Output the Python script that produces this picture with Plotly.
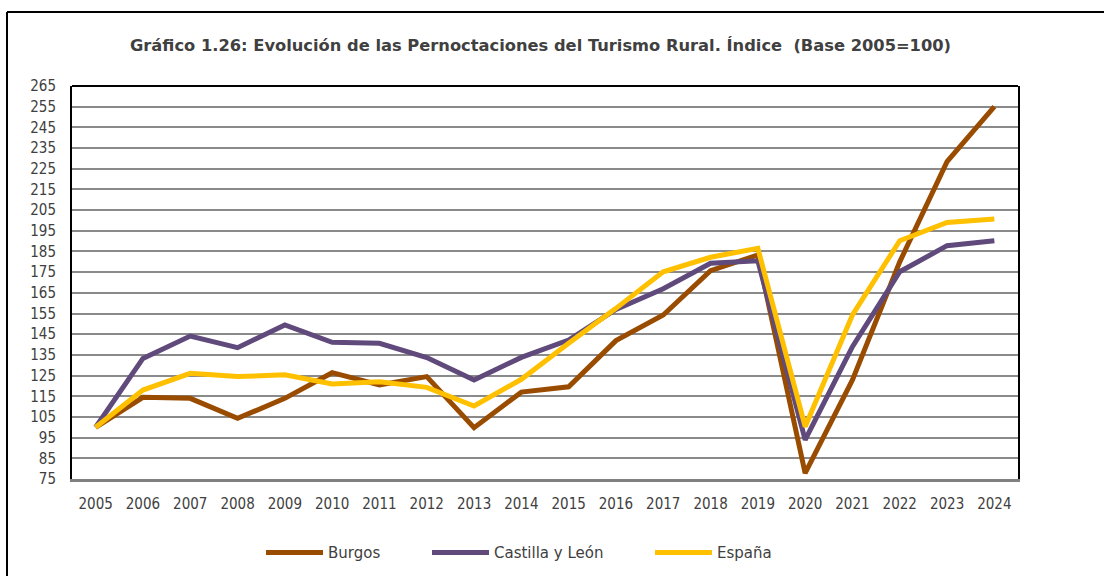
import plotly.graph_objects as go

years = [str(y) for y in range(2005, 2025)]
burgos = [100, 114.5, 114, 104.3, 114, 126.4, 120.5, 124.5, 99.8, 117, 119.6,
          141.9, 154.3, 175.7, 183.3, 77.8, 122.9, 180, 228.4, 255]
castilla = [100, 133.3, 144.1, 138.5, 149.5, 141.1, 140.6, 133.7, 122.9, 133.8, 142.2,
            157, 167, 179.3, 180.5, 93.9, 139, 175.2, 187.8, 190.2]
espana = [100, 118, 126.1, 124.5, 125.4, 120.9, 122, 119.3, 110.3, 123.2, 140.6,
          157.5, 175.2, 182.2, 186.5, 100.3, 154.3, 190.2, 199, 200.7]
y_ticks = list(range(75, 266, 10))

series = [("Burgos", burgos, "#994C00", "legend"),
          ("Castilla y León", castilla, "#604A7B", "legend2"),
          ("España", espana, "#FFC000", "legend3")]

fig = go.Figure()
for name, vals, col, lg in series:
    fig.add_trace(go.Scatter(x=years, y=vals, name=name, mode="lines", legend=lg,
                             line=dict(color=col, width=5)))

tick_font = dict(family="DejaVu Sans Condensed, Liberation Sans Narrow, DejaVu Sans", size=15, color="#404040")

PLOT_L, PLOT_W = 72, 946
def px_to_paper(px):
    return (px - PLOT_L) / PLOT_W

leg_common = dict(orientation="h", xanchor="left", y=-0.1875, yanchor="middle",
                  font=dict(family="DejaVu Sans", size=15, color="#404040"),
                  itemwidth=57, bgcolor="rgba(0,0,0,0)", borderwidth=0)

fig.update_layout(
    width=1104, height=576,
    margin=dict(l=72, r=86, t=86, b=97, autoexpand=False),
    paper_bgcolor="white", plot_bgcolor="white",
    title=dict(text="Gráfico 1.26: Evolución de las Pernoctaciones del Turismo Rural. Índice \u00a0(Base 2005=100)",
               x=540.5 / 1104, xanchor="center", xref="container",
               y=1 - 45 / 576, yanchor="middle", yref="container",
               font=dict(family="DejaVu Sans", size=16.3, color="#404040", weight="bold")),
    xaxis=dict(type="category", range=[-0.5, 19.5], showgrid=False, showline=True,
               linecolor="#808080", linewidth=3,
               ticks="", tickfont=tick_font, ticklabelstandoff=9, fixedrange=True),
    yaxis=dict(range=[75, 265], tickvals=y_ticks, showgrid=True, gridcolor="#8a8a8a", gridwidth=2,
               showline=True, linecolor="black", linewidth=2, mirror=True, ticks="",
               tickfont=tick_font, ticklabelstandoff=11, zeroline=False),
    legend=dict(x=px_to_paper(261), **leg_common),
    legend2=dict(x=px_to_paper(427), **leg_common),
    legend3=dict(x=px_to_paper(650), **leg_common),
    showlegend=True,
)
# top frame line and outer border (top and left edges only visible)
fig.add_shape(type="line", xref="paper", yref="paper", x0=0, x1=1, y0=1, y1=1,
              line=dict(color="black", width=2))
fig.add_shape(type="line", xref="paper", yref="paper", x0=px_to_paper(7), x1=px_to_paper(1110),
              y0=(479 - 12) / 393, y1=(479 - 12) / 393, line=dict(color="black", width=2))
fig.add_shape(type="line", xref="paper", yref="paper", x0=px_to_paper(7), x1=px_to_paper(7),
              y0=(479 - 12) / 393, y1=(479 - 590) / 393, line=dict(color="black", width=2))

fig.write_html("out.html", config={"displayModeBar": False},
               post_script="document.body.style.margin='0';")
